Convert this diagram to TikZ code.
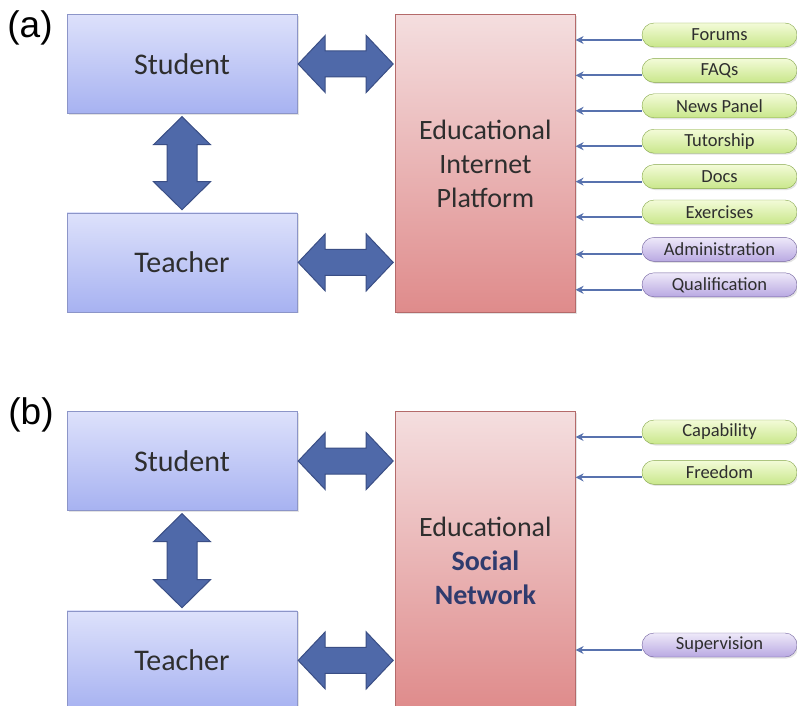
\documentclass[tikz,border=0pt]{standalone}
\usepackage{fontspec}
\setmainfont{Carlito}
\newfontfamily\panelfont{Liberation Sans}
\usetikzlibrary{positioning, arrows.meta, shadows, calc}

\definecolor{boxtop}{HTML}{DDE1FB}
\definecolor{boxbot}{HTML}{A7B2F1}
\definecolor{boxedge}{HTML}{8C95C8}
\definecolor{plattop}{HTML}{F4DEDF}
\definecolor{platbot}{HTML}{DF8B8B}
\definecolor{platedge}{HTML}{B46A6A}
\definecolor{fatfill}{HTML}{4F69A9}
\definecolor{fatedge}{HTML}{3A4E85}
\definecolor{greentop}{HTML}{F3FBD8}
\definecolor{greenbot}{HTML}{C9E78B}
\definecolor{greenedge}{HTML}{86A84A}
\definecolor{lilactop}{HTML}{EEE9F9}
\definecolor{lilacbot}{HTML}{B9A9E2}
\definecolor{lilacedge}{HTML}{72629F}
\definecolor{feedline}{HTML}{5872AE}
\definecolor{textgray}{HTML}{2E2E2E}
\definecolor{socialblue}{HTML}{2F3B6E}

\tikzset{
node distance=11pt,
softshadow/.style={drop shadow={opacity=.22, shadow xshift=1.5pt, shadow yshift=-1.5pt}},
actor/.style={draw=boxedge, top color=boxtop, bottom color=boxbot, text=textgray,
    minimum width=230pt, minimum height=99pt, font=\fontsize{30}{36}\selectfont, softshadow},
platform/.style={draw=platedge, top color=plattop, bottom color=platbot, text=textgray,
    minimum width=180pt, minimum height=298pt, align=center, font=\fontsize{28}{34}\selectfont, softshadow},
pill/.style={rounded corners=12pt, minimum width=155pt, minimum height=24pt, text=textgray,
    font=\fontsize{18.5}{20}\selectfont, softshadow},
tool/.style={pill, draw=greenedge, top color=greentop, bottom color=greenbot},
role/.style={pill, draw=lilacedge, top color=lilactop, bottom color=lilacbot},
panellabel/.style={font=\panelfont\fontsize{37}{40}\selectfont},
feed/.style={draw=feedline, line width=2pt, -{Stealth[length=8pt,width=8pt]}},
fat/.style={draw=fatedge, fill=fatfill, line width=1pt},
hfat/.style={to path={let \p1=(\tikztostart), \p2=(\tikztotarget) in
    (\x1+1pt,\y1) -- (\x1+28pt,\y1+28.5pt) -- (\x1+28pt,\y1+13pt) -- (\x2-29pt,\y1+13pt)
    -- (\x2-29pt,\y1+28.5pt) -- (\x2-2pt,\y1) -- (\x2-29pt,\y1-28.5pt) -- (\x2-29pt,\y1-13pt)
    -- (\x1+28pt,\y1-13pt) -- (\x1+28pt,\y1-28.5pt) -- cycle}},
vfat/.style={to path={let \p1=(\tikztostart), \p2=(\tikztotarget) in
    (\x1,\y1-3pt) -- (\x1+28.5pt,\y1-31pt) -- (\x1+15pt,\y1-31pt) -- (\x1+15pt,\y2+31pt)
    -- (\x1+28.5pt,\y2+31pt) -- (\x1,\y2+3pt) -- (\x1-28.5pt,\y2+31pt) -- (\x1-15pt,\y2+31pt)
    -- (\x1-15pt,\y1-31pt) -- (\x1-28.5pt,\y1-31pt) -- cycle}},
}

\begin{document}
\begin{tikzpicture}[x=1pt, y=-1pt]
    \useasboundingbox (0,0) rectangle (797,706);
    \fill[white] (0,0) rectangle (797,706);
    \clip (0,0) rectangle (797,706);

    % (a) Educational Internet Platform
    \node[panellabel] (la) at (30,28) {(a)};
    \node[actor] (stuA) at (182,64) {Student};
    \node[actor, below=99pt of stuA] (tchA) {Teacher};
    \node[platform, right=98pt of stuA.north east, anchor=north west] (platA) {Educational\\Internet\\Platform};

    \node[tool] (foA) at (719.5,35) {Forums};
    \node[tool, below=of foA] (faA) {FAQs};
    \node[tool, below=of faA] (neA) {News Panel};
    \node[tool, below=of neA] (tuA) {Tutorship};
    \node[tool, below=of tuA] (doA) {Docs};
    \node[tool, below=of doA] (exA) {Exercises};
    \node[role, below=13pt of exA] (adA) {Administration};
    \node[role, below=of adA] (quA) {Qualification};

    \draw[fat] (stuA.east) to[hfat] (platA.west |- stuA.east);
    \draw[fat] (tchA.east) to[hfat] (platA.west |- tchA.east);
    \draw[fat] (stuA.south) to[vfat] (tchA.north);

    \draw[feed] ([yshift=-5pt]foA.west) -- ([yshift=-5pt]foA.west -| platA.east);
    \draw[feed] ([yshift=-5pt]faA.west) -- ([yshift=-5pt]faA.west -| platA.east);
    \draw[feed] ([yshift=-5pt]neA.west) -- ([yshift=-5pt]neA.west -| platA.east);
    \draw[feed] ([yshift=-5pt]tuA.west) -- ([yshift=-5pt]tuA.west -| platA.east);
    \draw[feed] ([yshift=-5pt]doA.west) -- ([yshift=-5pt]doA.west -| platA.east);
    \draw[feed] ([yshift=-5pt]exA.west) -- ([yshift=-5pt]exA.west -| platA.east);
    \draw[feed] ([yshift=-5pt]adA.west) -- ([yshift=-5pt]adA.west -| platA.east);
    \draw[feed] ([yshift=-5pt]quA.west) -- ([yshift=-5pt]quA.west -| platA.east);

    % (b) Educational Social Network
    \node[panellabel] (lb) at (31,415) {(b)};
    \node[actor] (stuB) at (182,461) {Student};
    \node[actor, below=100pt of stuB] (tchB) {Teacher};
    \node[platform, right=98pt of stuB.north east, anchor=north west] (platB)
        {Educational\\\textcolor{socialblue}{\bfseries Social}\\\textcolor{socialblue}{\bfseries Network}};

    \node[tool] (caB) at (719.5,432) {Capability};
    \node[tool, below=16pt of caB] (frB) {Freedom};
    \node[role] (suB) at (719.5,645) {Supervision};

    \draw[fat] (stuB.east) to[hfat] (platB.west |- stuB.east);
    \draw[fat] (tchB.east) to[hfat] (platB.west |- tchB.east);
    \draw[fat] (stuB.south) to[vfat] (tchB.north);

    \draw[feed] ([yshift=-5pt]caB.west) -- ([yshift=-5pt]caB.west -| platB.east);
    \draw[feed] ([yshift=-5pt]frB.west) -- ([yshift=-5pt]frB.west -| platB.east);
    \draw[feed] ([yshift=-5pt]suB.west) -- ([yshift=-5pt]suB.west -| platB.east);
\end{tikzpicture}
\end{document}
